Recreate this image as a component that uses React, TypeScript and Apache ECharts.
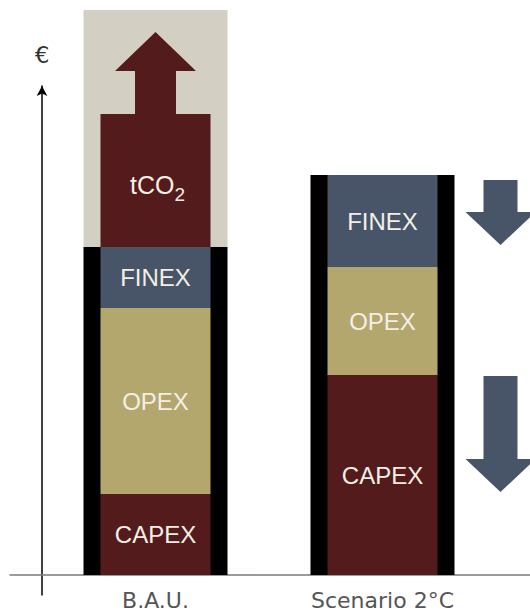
import React, { useEffect, useRef } from 'react';
import * as echarts from 'echarts';

// ---- data (arbitrary € units) ----
const categories = ['B.A.U.', 'Scenario 2°C'];
const capex = [16.2, 40];
const opex = [37.2, 21.6];
const finex = [12.2, 18.4];
const tco2 = [43, null]; // carbon cost arrow on top of B.A.U.
const downArrowCategory = [1, 1];
const downArrowTop = [79, 39.8];
const downArrowTip = [66, 16.6];

const Y_MAX = 113;

// ---- style ----
const C_CAPEX = '#531b1b';
const C_OPEX = '#b4a76e';
const C_FINEX = '#485467';
const C_PANEL = '#d3cfc2';
const C_FRAME = '#000000';
const C_TEXT = '#f3efe6';
const BAR_W = 110;
const FRAME_W = 144;
const LABEL_FONT = '"Liberation Sans", Arial, sans-serif';

const totals = categories.map((_, i) => capex[i] + opex[i] + finex[i]);

function segLabel() {
  return {
    show: true,
    position: 'inside',
    formatter: '{a}',
    color: C_TEXT,
    fontSize: 24,
    fontFamily: LABEL_FONT,
  };
}

export default function App() {
  const ref = useRef<HTMLDivElement>(null);
  useEffect(() => {
    if (!ref.current) return;
    const chart = echarts.init(ref.current, undefined, { renderer: 'svg' });
    const option: any = {
      animation: false,
      backgroundColor: '#ffffff',
      grid: [
        { left: 42, right: 34, top: 10, bottom: 41 },
        { left: 10, right: 0, top: 86, bottom: 21 },
      ],
      xAxis: [
        {
          type: 'category',
          gridIndex: 0,
          data: categories,
          axisLine: { show: false },
          axisTick: { show: false },
          axisLabel: {
            color: '#555555',
            fontSize: 22,
            fontFamily: '"DejaVu Sans", sans-serif',
            margin: 14,
          },
        },
        { type: 'category', gridIndex: 0, data: categories, show: false },
        {
          type: 'value',
          gridIndex: 1,
          min: -32,
          max: 488,
          axisLine: { show: true, onZero: true, lineStyle: { color: '#7a7a7a', width: 1.5 } },
          axisTick: { show: false },
          axisLabel: { show: false },
          splitLine: { show: false },
        },
      ],
      yAxis: [
        { type: 'value', gridIndex: 0, min: 0, max: Y_MAX, show: false },
        {
          type: 'value',
          gridIndex: 1,
          min: -20,
          max: 489,
          name: '€',
          nameLocation: 'end',
          nameGap: 20,
          nameTextStyle: { fontSize: 23, color: '#333333', fontFamily: '"DejaVu Sans", sans-serif' },
          axisLine: {
            show: true,
            onZero: true,
            symbol: ['none', 'arrow'],
            symbolSize: [8, 10],
            lineStyle: { color: '#000000', width: 1.5 },
          },
          axisTick: { show: false },
          axisLabel: { show: false },
          splitLine: { show: false },
        },
      ],
      series: [
        {
          name: 'frame',
          type: 'bar',
          xAxisIndex: 1,
          yAxisIndex: 0,
          stack: 'frame',
          barWidth: FRAME_W,
          data: totals,
          itemStyle: { color: C_FRAME },
          silent: true,
          z: 1,
        },
        {
          name: 'panel',
          type: 'bar',
          xAxisIndex: 1,
          yAxisIndex: 0,
          stack: 'frame',
          barWidth: FRAME_W,
          data: tco2.map((v, i) => (v == null ? '-' : Y_MAX - totals[i])),
          itemStyle: { color: C_PANEL },
          silent: true,
          z: 1,
        },
        {
          name: 'CAPEX',
          type: 'bar',
          xAxisIndex: 0,
          yAxisIndex: 0,
          stack: 'cost',
          barWidth: BAR_W,
          data: capex,
          itemStyle: { color: C_CAPEX },
          label: segLabel(),
          z: 2,
        },
        {
          name: 'OPEX',
          type: 'bar',
          xAxisIndex: 0,
          yAxisIndex: 0,
          stack: 'cost',
          barWidth: BAR_W,
          data: opex,
          itemStyle: { color: C_OPEX },
          label: segLabel(),
          z: 2,
        },
        {
          name: 'FINEX',
          type: 'bar',
          xAxisIndex: 0,
          yAxisIndex: 0,
          stack: 'cost',
          barWidth: BAR_W,
          data: finex,
          itemStyle: { color: C_FINEX },
          label: segLabel(),
          z: 2,
        },
        {
          name: 'tCO2',
          type: 'custom',
          xAxisIndex: 0,
          yAxisIndex: 0,
          z: 3,
          encode: { x: 0, y: [1, 2] },
          data: tco2
            .map((v, i) => (v == null ? null : [i, totals[i], v]))
            .filter((d) => d != null),
          renderItem: (params: any, api: any) => {
            const x = api.value(0);
            const base = api.value(1);
            const len = api.value(2);
            const p0 = api.coord([x, base]);
            const pTip = api.coord([x, base + len]);
            const cx = p0[0];
            const y0 = p0[1];
            const yTip = pTip[1];
            const H = y0 - yTip;
            const yS = y0 - H * 0.619;
            const yN = y0 - H * 0.819;
            const hw = BAR_W / 2;
            const nw = 20.5;
            const hh = 40.5;
            const points = [
              [cx - hw, y0],
              [cx - hw, yS],
              [cx - nw, yS],
              [cx - nw, yN],
              [cx - hh, yN],
              [cx, yTip],
              [cx + hh, yN],
              [cx + nw, yN],
              [cx + nw, yS],
              [cx + hw, yS],
              [cx + hw, y0],
            ];
            return {
              type: 'group',
              children: [
                { type: 'polygon', shape: { points }, style: { fill: C_CAPEX } },
                {
                  type: 'text',
                  x: cx + 2,
                  y: (y0 + yS) / 2 + 5,
                  style: {
                    text: '{a|tCO}{b|2}',
                    align: 'center',
                    verticalAlign: 'middle',
                    rich: {
                      a: {
                        fontSize: 25,
                        lineHeight: 26,
                        fill: C_TEXT,
                        fontFamily: LABEL_FONT,
                        verticalAlign: 'top',
                      },
                      b: {
                        fontSize: 19,
                        lineHeight: 19,
                        fill: C_TEXT,
                        fontFamily: LABEL_FONT,
                        padding: [13, 0, 0, 0],
                        verticalAlign: 'top',
                      },
                    },
                  },
                },
              ],
            };
          },
        },
        {
          name: 'reduction',
          type: 'custom',
          xAxisIndex: 0,
          yAxisIndex: 0,
          z: 3,
          encode: { x: 0, y: [1, 2] },
          data: downArrowTop.map((t, i) => [downArrowCategory[i], t, downArrowTip[i]]),
          renderItem: (params: any, api: any) => {
            const x = api.value(0);
            const pTop = api.coord([x, api.value(1)]);
            const pTip = api.coord([x, api.value(2)]);
            const cx = pTop[0] + 118;
            const yT = pTop[1];
            const yP = pTip[1];
            const sw = 17;
            const hw = 35;
            const yH = yP - 33;
            return {
              type: 'polygon',
              shape: {
                points: [
                  [cx - sw, yT],
                  [cx + sw, yT],
                  [cx + sw, yH],
                  [cx + hw, yH],
                  [cx, yP],
                  [cx - hw, yH],
                  [cx - sw, yH],
                ],
              },
              style: { fill: C_FINEX },
            };
          },
        },
      ],
    };
    chart.setOption(option);
    return () => chart.dispose();
  }, []);
  return (
    <div
      ref={ref}
      style={{ position: 'fixed', left: 0, top: 0, width: 530, height: 616, background: '#fff' }}
    />
  );
}
